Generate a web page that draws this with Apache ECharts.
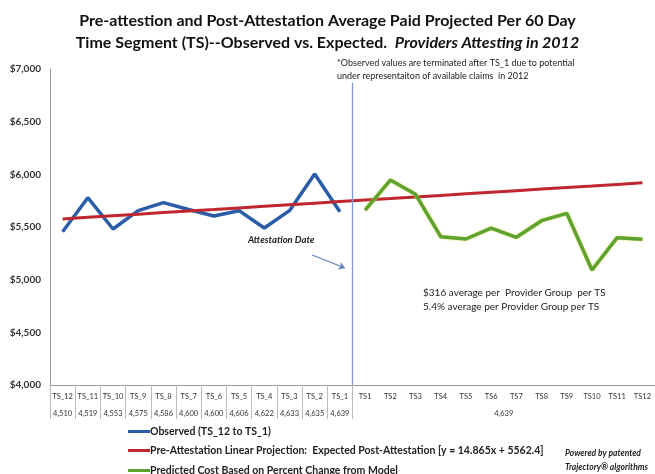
<!DOCTYPE html>
<html>
<head>
<meta charset="utf-8">
<script src="https://cdn.jsdelivr.net/npm/echarts@6/dist/echarts.min.js"></script>
<style>
  html, body { margin: 0; padding: 0; background: #fff; }
  #main { width: 655px; height: 474px; }
</style>
</head>
<body>
<div id="main"></div>
<script>
// categories: 12 time segments before attestation, 12 after
var categories = ['TS_12','TS_11','TS_10','TS_9','TS_8','TS_7','TS_6','TS_5','TS_4','TS_3','TS_2','TS_1',
                  'TS1','TS2','TS3','TS4','TS5','TS6','TS7','TS8','TS9','TS10','TS11','TS12'];
// provider counts (second label row)
var obsCounts = ['4,510','4,519','4,553','4,575','4,586','4,600','4,600','4,606','4,622','4,633','4,635','4,639'];
var postCount = '4,639';

// series values
var observed = [5455, 5778, 5481, 5655, 5731, 5666, 5604, 5655, 5490, 5655, 6003, 5645];
var predicted = [5661, 5946, 5810, 5408, 5386, 5490, 5402, 5560, 5630, 5092, 5399, 5383];
var projection = [5577, 5592, 5607, 5622, 5637, 5652, 5666, 5681, 5696, 5711, 5726, 5741,
                  5756, 5770, 5785, 5800, 5815, 5830, 5845, 5860, 5875, 5889, 5904, 5919];

var seriesNames = ['Observed (TS_12 to TS_1)',
                   'Pre-Attestation Linear Projection:  Expected Post-Attestation [y = 14.865x + 5562.4]',
                   'Predicted Cost Based on Percent Change from Model'];

var font = 'Lato';
var pad = [null,null,null,null,null,null,null,null,null,null,null,null];

// one legend box per row so they stack like the original
function legendRow(name, top) {
  return {
    data: [name],
    left: 128,
    top: top,
    padding: 0,
    itemWidth: 22,
    itemHeight: 3,
    icon: 'rect',
    textStyle: { fontFamily: font, fontSize: 10.5, fontWeight: 'bold', color: '#222', padding: [0, 0, 0, -5] }
  };
}

var chart = echarts.init(document.getElementById('main'));
var option = {
  backgroundColor: '#fff',
  textStyle: { fontFamily: font },
  title: {
    left: 'center',
    top: 5,
    text: '{b|Pre-attestion and Post-Attestation Average Paid Projected Per 60 Day}\n{b|Time Segment (TS)--Observed vs. Expected.  }{i|Providers Attesting in 2012}',
    textStyle: {
      rich: {
        b: { fontFamily: font, fontSize: 16, fontWeight: 'bold', color: '#111', lineHeight: 22 },
        i: { fontFamily: font, fontSize: 16, fontWeight: 'bold', fontStyle: 'italic', color: '#111', lineHeight: 22 }
      }
    }
  },
  legend: [
    legendRow(seriesNames[0], 426),
    legendRow(seriesNames[1], 445),
    legendRow(seriesNames[2], 465)
  ],
  grid: { left: 50, right: 0, top: 69, bottom: 89 },
  xAxis: [
    {
      type: 'category',
      data: categories,
      boundaryGap: true,
      axisLine: { lineStyle: { color: '#999' } },
      axisTick: {
        show: true,
        length: 34,
        interval: function (i) { return i <= 12; },
        lineStyle: { color: '#bbb' }
      },
      axisLabel: { interval: 0, fontSize: 7.5, color: '#333', margin: 8 }
    },
    {
      type: 'category',
      data: obsCounts.concat(['','','','','','','','','','','','']),
      position: 'bottom',
      offset: 16,
      axisLine: { show: false },
      axisTick: { show: false },
      axisLabel: { interval: 0, fontSize: 7.5, color: '#333', margin: 9 }
    },
    {
      type: 'category',
      data: ['', postCount],
      position: 'bottom',
      offset: 16,
      axisLine: { show: false },
      axisTick: { show: false },
      axisLabel: { interval: 0, fontSize: 7.5, color: '#333', margin: 9 }
    },
    { type: 'value', min: 0, max: 24, show: false }
  ],
  yAxis: {
    type: 'value',
    min: 4000,
    max: 7000,
    interval: 500,
    splitLine: { show: false },
    axisLine: { show: true, lineStyle: { color: '#999' } },
    axisTick: { show: false },
    axisLabel: {
      fontSize: 10, fontWeight: 'bold', color: '#333', margin: 9,
      formatter: function (v) { return '$' + v.toLocaleString('en-US'); }
    }
  },
  series: [
    {
      name: seriesNames[0],
      type: 'line',
      data: observed.concat(pad),
      symbol: 'none',
      lineStyle: { color: '#2a5ca8', width: 3.5 },
      itemStyle: { color: '#2a5ca8' }
    },
    {
      name: seriesNames[1],
      type: 'line',
      data: projection,
      symbol: 'none',
      lineStyle: { color: '#c0262d', width: 3 },
      itemStyle: { color: '#c0262d' }
    },
    {
      name: seriesNames[2],
      type: 'line',
      data: pad.concat(predicted),
      symbol: 'none',
      lineStyle: { color: '#5ea32f', width: 3.5, shadowColor: 'rgba(215,215,60,0.8)', shadowBlur: 2 },
      itemStyle: { color: '#5ea32f' }
    },
    {
      // attestation date separator and arrow
      type: 'line',
      xAxisIndex: 3,
      data: [],
      clip: false,
      silent: true,
      markLine: {
        silent: true,
        symbol: 'none',
        label: { show: false },
        data: [
          [{ coord: [12, 6870], lineStyle: { color: '#7b9bd2', width: 1.3, type: 'solid' } },
           { coord: [12, 4000] }],
          [{ coord: [10.4, 5234], symbol: 'none', lineStyle: { color: '#5a84c4', width: 1.2, type: 'solid' } },
           { coord: [11.7, 5111], symbol: 'arrow', symbolSize: 6 }]
        ]
      }
    }
  ],
  graphic: [
    {
      type: 'text', left: 337, top: 57,
      style: {
        text: '*Observed values are terminated after TS_1 due to potential\nunder representaiton of available claims  in 2012',
        font: '9px ' + font, fill: '#222', lineHeight: 13
      }
    },
    {
      type: 'text', left: 248, top: 235,
      style: { text: 'Attestation Date', font: 'italic bold 9.5px ' + font, fill: '#222' }
    },
    {
      type: 'text', left: 423, top: 286,
      style: {
        text: '$316 average per  Provider Group  per TS\n5.4% average per Provider Group per TS',
        font: '10px ' + font, fill: '#222', lineHeight: 14
      }
    },
    {
      type: 'text', left: 565, top: 446,
      style: {
        text: 'Powered by patented\nTrajectory\u00ae algorithms',
        font: 'italic bold 8.5px ' + font, fill: '#222', lineHeight: 14
      }
    }
  ]
};
chart.setOption(option);
</script>
</body>
</html>
